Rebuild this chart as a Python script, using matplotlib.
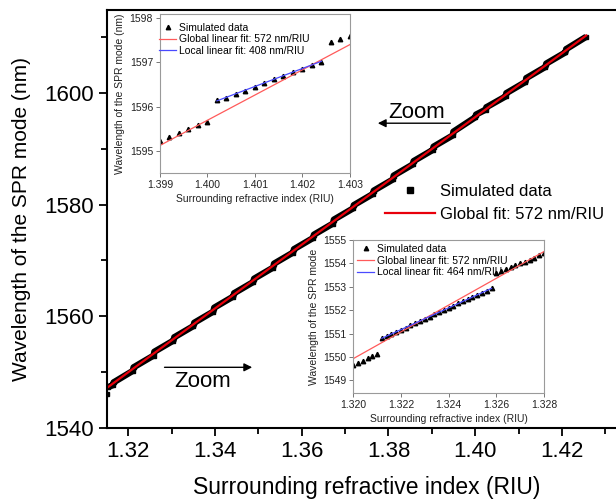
import matplotlib
matplotlib.use('Agg')
import matplotlib.pyplot as plt
from matplotlib.lines import Line2D
from matplotlib.ticker import MultipleLocator

plt.rcParams['font.family'] = ['Liberation Sans', 'DejaVu Sans']

# main curve: start/end points of each step of the simulated resonance
main_n = [1.3150,
          1.3152, 1.3164, 1.3166, 1.3210, 1.3212, 1.3258, 1.3260, 1.3304,
          1.3306, 1.3350, 1.3352, 1.3396, 1.3398, 1.3442, 1.3444, 1.3488,
          1.3490, 1.3534, 1.3536, 1.3580, 1.3582, 1.3626, 1.3628, 1.3672,
          1.3674, 1.3718, 1.3720, 1.3764, 1.3766, 1.3810, 1.3812, 1.3856,
          1.3858, 1.3902, 1.3904, 1.3948, 1.3950, 1.4000, 1.4002, 1.4024,
          1.4026, 1.4070, 1.4072, 1.4116, 1.4118, 1.4162, 1.4164, 1.4208,
          1.4210, 1.4256]
main_wl = [1546.1,
           1547.2, 1547.6, 1548.1, 1550.15, 1550.8, 1552.9, 1553.6, 1555.6,
           1556.2, 1558.2, 1558.8, 1560.8, 1561.5, 1563.5, 1564.1, 1566.1,
           1566.7, 1568.7, 1569.4, 1571.4, 1572.0, 1574.0, 1574.6, 1576.6,
           1577.3, 1579.3, 1579.9, 1581.9, 1582.5, 1584.5, 1585.2, 1587.2,
           1587.8, 1589.8, 1590.4, 1592.4, 1593.1, 1595.65, 1596.15, 1597.03,
           1597.47, 1599.4, 1600.0, 1602.0, 1602.7, 1604.7, 1605.3, 1607.3,
           1607.9, 1610.1]

# global linear fit: 572 nm/RIU through (1.320, 1549.93)
fit_slope = 572.0
fit_n0 = 1.320
fit_wl0 = 1549.93
fit_range = [1.3152, 1.4256]

# zoom 1: 1.399 - 1.403
z1_n = [1.3990, 1.3992, 1.3994, 1.3996, 1.3998, 1.4000, 1.4002, 1.4004,
        1.4006, 1.4008, 1.4010, 1.4012, 1.4014, 1.4016, 1.4018, 1.4020,
        1.4022, 1.4024, 1.4026, 1.4028, 1.4030]
z1_wl = [1595.23, 1595.32, 1595.41, 1595.50, 1595.58, 1595.66, 1596.15,
         1596.20, 1596.28, 1596.36, 1596.45, 1596.53, 1596.62, 1596.69,
         1596.79, 1596.86, 1596.94, 1597.02, 1597.47, 1597.53, 1597.61]
z1_local_slope = 408.0
z1_local = [1.4002, 1.4024, 1596.13]

# zoom 2: 1.320 - 1.328
z2_n = [1.3200, 1.3202, 1.3204, 1.3206, 1.3208, 1.3210, 1.3212, 1.3214,
        1.3216, 1.3218, 1.3220, 1.3222, 1.3224, 1.3226, 1.3228, 1.3230,
        1.3232, 1.3234, 1.3236, 1.3238, 1.3240, 1.3242, 1.3244, 1.3246,
        1.3248, 1.3250, 1.3252, 1.3254, 1.3256, 1.3258, 1.3260, 1.3262,
        1.3264, 1.3266, 1.3268, 1.3270, 1.3272, 1.3274, 1.3276, 1.3278,
        1.3280]
z2_wl = [1549.64, 1549.74, 1549.84, 1549.94, 1550.04, 1550.14, 1550.80,
         1550.89, 1550.99, 1551.08, 1551.17, 1551.26, 1551.36, 1551.45,
         1551.54, 1551.64, 1551.73, 1551.82, 1551.91, 1552.01, 1552.10,
         1552.19, 1552.29, 1552.38, 1552.47, 1552.56, 1552.66, 1552.75,
         1552.84, 1552.93, 1553.60, 1553.67, 1553.75, 1553.83, 1553.92,
         1554.00, 1554.08, 1554.16, 1554.25, 1554.34, 1554.45]
z2_local_slope = 464.0
z2_local = [1.3212, 1.3258, 1550.80]


def global_fit(n):
    return fit_wl0 + fit_slope * (n - fit_n0)


def style_inset(ax):
    for s in ax.spines.values():
        s.set_color('#9a9a9a')
        s.set_linewidth(0.8)
    ax.tick_params(direction='out', length=3, width=0.7, color='#777777',
                   labelsize=7.5, labelcolor='#222222', pad=2)


fig = plt.figure(figsize=(6.16, 5.01), dpi=100)

# main axes (right spine falls just outside the figure)
ax = fig.add_axes([0.1732, 0.1467, 0.8445, 0.8343])
ax.plot(main_n[1:], main_wl[1:], color='black', lw=4.6, solid_capstyle='butt')
ax.plot(main_n, main_wl, 's', color='black', ms=3.5)
ax.plot(fit_range, [global_fit(v) for v in fit_range], color='#e8000b', lw=1.6)
ax.set_xlim(1.315, 1.435)
ax.set_ylim(1540, 1615)
ax.xaxis.set_major_locator(MultipleLocator(0.02))
ax.xaxis.set_minor_locator(MultipleLocator(0.01))
ax.yaxis.set_major_locator(MultipleLocator(20))
ax.yaxis.set_minor_locator(MultipleLocator(10))
ax.xaxis.set_major_formatter(plt.FormatStrFormatter('%.2f'))
ax.tick_params(which='major', direction='out', length=6, width=1.3, labelsize=16)
ax.tick_params(which='minor', direction='out', length=4, width=1.3)
for s in ax.spines.values():
    s.set_linewidth(1.5)
ax.set_xlabel('Surrounding refractive index (RIU)', fontsize=16.5, labelpad=10)
ax.set_ylabel('Wavelength of the SPR mode (nm)', fontsize=15, labelpad=9)

# zoom arrows
ax.annotate('', xy=(1.3492, 1550.8), xytext=(1.3277, 1550.8),
            arrowprops=dict(arrowstyle='-|>', color='black', lw=1.0, mutation_scale=12))
ax.text(1.3372, 1548.3, 'Zoom', fontsize=16, ha='center', va='center')
ax.annotate('', xy=(1.3769, 1594.6), xytext=(1.3949, 1594.6),
            arrowprops=dict(arrowstyle='-|>', color='black', lw=1.0, mutation_scale=12))
ax.text(1.3865, 1596.6, 'Zoom', fontsize=16, ha='center', va='center')

main_handles = [
    Line2D([], [], marker='s', color='black', ls='none', ms=4.5),
    Line2D([], [], color='#e8000b', lw=1.6),
]
fig.legend(main_handles, ['Simulated data', 'Global fit: 572 nm/RIU'],
           loc='upper left', bbox_to_anchor=(0.6, 0.663), frameon=False,
           fontsize=12, handlelength=3.0, handletextpad=0.3, labelspacing=0.5)

inset_kw = dict(loc='upper left', frameon=False,
                fontsize=7.5, handlelength=1.6, handletextpad=0.3,
                labelspacing=0.15, borderpad=0.3)

# inset 1
ax1 = fig.add_axes([0.2597, 0.6553, 0.3084, 0.3168])
ax1.plot(z1_n, z1_wl, '^', color='black', ms=3.2, label='Simulated data')
ax1.plot([1.399, 1.403], [global_fit(1.399), global_fit(1.403)],
         color='#ff5a5a', lw=0.9, label='Global linear fit: 572 nm/RIU')
ax1.plot(z1_local[:2], [z1_local[2], z1_local[2] + z1_local_slope * (z1_local[1] - z1_local[0])],
         color='#4a4aff', lw=0.9, label='Local linear fit: 408 nm/RIU')
ax1.set_xlim(1.399, 1.403)
ax1.set_ylim(1594.5, 1598.1)
ax1.xaxis.set_major_locator(MultipleLocator(0.001))
ax1.yaxis.set_major_locator(MultipleLocator(1))
ax1.xaxis.set_major_formatter(plt.FormatStrFormatter('%.3f'))
style_inset(ax1)
ax1.set_xlabel('Surrounding refractive index (RIU)', fontsize=7.5, color='#222222', labelpad=3)
ax1.set_ylabel('Wavelength of the SPR mode (nm)', fontsize=7.5, color='#222222', labelpad=3)
ax1.legend(bbox_to_anchor=(-0.02, 0.965), borderaxespad=0.0, **inset_kw)

# inset 2
ax2 = fig.add_axes([0.5735, 0.215, 0.3096, 0.306])
ax2.plot(z2_n, z2_wl, '^', color='black', ms=3.2, label='Simulated data')
ax2.plot([1.320, 1.328], [global_fit(1.320), global_fit(1.328)],
         color='#ff5a5a', lw=0.9, label='Global linear fit: 572 nm/RIU')
ax2.plot(z2_local[:2], [z2_local[2], z2_local[2] + z2_local_slope * (z2_local[1] - z2_local[0])],
         color='#4a4aff', lw=0.9, label='Local linear fit: 464 nm/RIU')
ax2.set_xlim(1.320, 1.328)
ax2.set_ylim(1548.45, 1555.0)
ax2.xaxis.set_major_locator(MultipleLocator(0.002))
ax2.yaxis.set_major_locator(MultipleLocator(1))
ax2.xaxis.set_major_formatter(plt.FormatStrFormatter('%.3f'))
style_inset(ax2)
ax2.set_xlabel('Surrounding refractive index (RIU)', fontsize=7.5, color='#222222', labelpad=3)
ax2.set_ylabel('Wavelength of the SPR mode', fontsize=7.5, color='#222222', labelpad=3)
ax2.legend(bbox_to_anchor=(0.0, 1.0), borderaxespad=0.1, **inset_kw)

fig.savefig('out.png', dpi=100)
